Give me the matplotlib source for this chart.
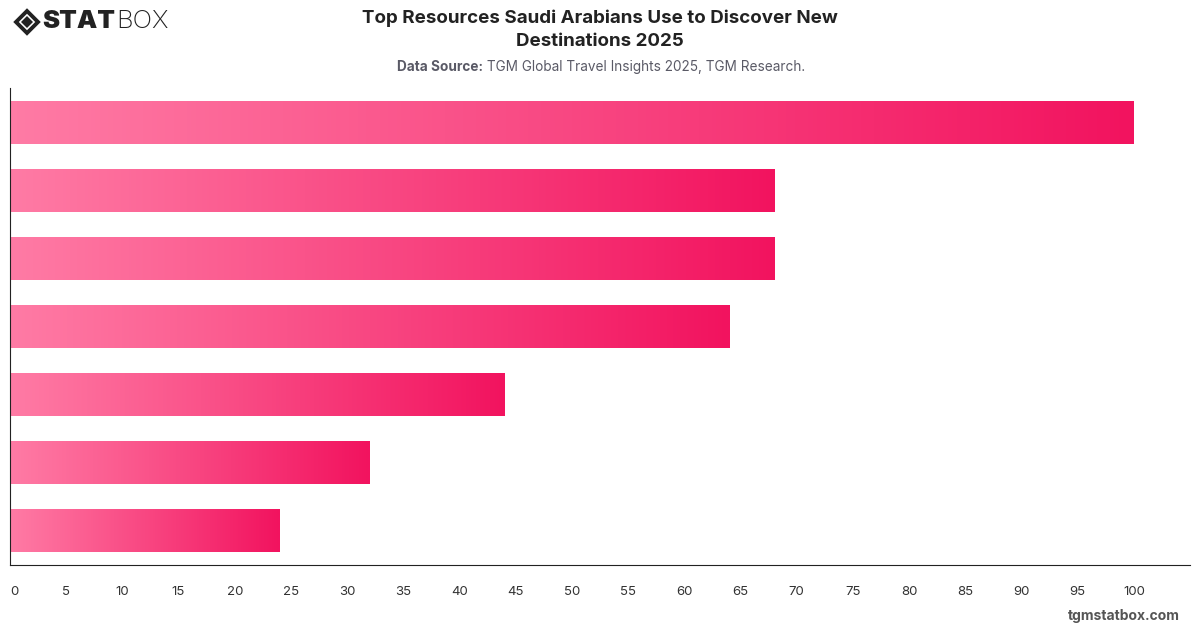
import numpy as np
import matplotlib
matplotlib.use("Agg")
import matplotlib.pyplot as plt
from matplotlib.colors import LinearSegmentedColormap
from matplotlib.patches import Polygon

# data (category labels are not shown on the chart)
categories = ["Resource 1", "Resource 2", "Resource 3", "Resource 4",
              "Resource 5", "Resource 6", "Resource 7"]
values = [100, 68, 68, 64, 44, 32, 24]
x_ticks = list(range(0, 105, 5))

title = "Top Resources Saudi Arabians Use to Discover New\nDestinations 2025"
source_label = "Data Source:"
source_text = " TGM Global Travel Insights 2025, TGM Research."

plt.rcParams["font.family"] = ["Inter", "DejaVu Sans"]

fig = plt.figure(figsize=(12, 6.28), dpi=100)
ax = fig.add_axes([0.0083, 0.1003, 0.9834, 0.7596])

cmap = LinearSegmentedColormap.from_list("pink", ["#ff7ba5", "#f2135f"])
grad = np.linspace(0, 1, 256).reshape(1, -1)

bar_h = 0.63
ypos = np.arange(len(values))[::-1]
bars = ax.barh(ypos, values, height=bar_h, color="none", edgecolor="none")
for bar, v, y in zip(bars, values, ypos):
    im = ax.imshow(grad, cmap=cmap, aspect="auto", interpolation="bicubic",
                   extent=(0, v, y - bar_h / 2, y + bar_h / 2), zorder=2)
    im.set_clip_path(bar)

ax.set_xlim(0, 105)
ax.set_ylim(-0.5, len(values) - 0.5)
ax.set_xticks(x_ticks)
ax.set_xticklabels([str(t) for t in x_ticks], fontsize=9.5, color="#333333")
ax.tick_params(axis="x", length=0, pad=15)
for lbl in ax.get_xticklabels()[:1]:
    lbl.set_horizontalalignment("left")
ax.set_yticks([])
ax.spines["top"].set_visible(False)
ax.spines["right"].set_visible(False)
ax.spines["left"].set_color("#222222")
ax.spines["bottom"].set_color("#222222")

# title and source
fig.text(0.5, 0.985, title, ha="center", va="top", fontsize=13.5,
         fontweight="bold", color="#222222", linespacing=1.45)
t1 = fig.text(0.5, 0.893, source_label + source_text, ha="center", va="center",
              fontsize=9.8, color="#ffffff")
fig.canvas.draw()
bb = t1.get_window_extent()
t1.set_visible(False)
lx = bb.x0 / fig.bbox.width
a = fig.text(lx, 0.893, source_label, ha="left", va="center", fontsize=9.8,
             fontweight="bold", color="#5a5a66")
fig.canvas.draw()
ab = a.get_window_extent()
fig.text(ab.x1 / fig.bbox.width, 0.893, source_text, ha="left", va="center",
         fontsize=9.8, color="#5a5a66")

# logo
W, H = 1200, 628
def fp(pts):
    return [(x / W, 1 - y / H) for x, y in pts]
fig.patches.append(Polygon(fp([(16, 22), (27, 11), (38, 22), (27, 33)]),
                           closed=True, transform=fig.transFigure,
                           facecolor="none", edgecolor="#222222", lw=2.8))
fig.patches.append(Polygon(fp([(21, 22), (27, 16), (33, 22), (27, 28)]),
                           closed=True, transform=fig.transFigure,
                           facecolor="#222222", edgecolor="none"))
s = fig.text(42 / W, 1 - 22 / H, "STAT", ha="left", va="center", fontsize=18.5,
             fontweight="black", color="#222222")
fig.canvas.draw()
sb = s.get_window_extent()
fig.text(sb.x1 / W + 0.001, 1 - 22 / H, "BOX", ha="left", va="center",
         fontsize=18.5, fontweight="light", color="#222222")

fig.text(1180 / W, 1 - 616 / H, "tgmstatbox.com", ha="right", va="center",
         fontsize=10, fontweight="bold", color="#555555")

fig.savefig("out.png", dpi=100)
